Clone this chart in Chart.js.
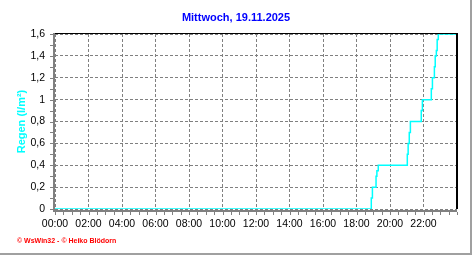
<!DOCTYPE html>
<html lang="de">
<head>
    <meta charset="UTF-8">
    <title>Regen Mittwoch, 19.11.2025</title>
    <script src="https://cdn.jsdelivr.net/npm/chart.js"></script>
    <style>
        html, body {
            margin: 0;
            padding: 0;
            background: #ffffff;
        }
        .chart-container {
            position: relative;
            width: 472px;
            height: 255px;
        }
    </style>
</head>
<body>
    <div class="chart-container">
        <canvas id="rainChart"></canvas>
    </div>

    <script>
        // Uhrzeit in Minuten seit 00:00, Regen kumuliert in l/m²
        const titleText = 'Mittwoch, 19.11.2025';
        const axisTitle = 'Regen (l/m²)';
        const footerText = '© WsWin32 - © Heiko Blödorn';
        const times = [0, 1133, 1137, 1150, 1153, 1158, 1262, 1265, 1269, 1273, 1312, 1316, 1348, 1352, 1359, 1362, 1366, 1369, 1373, 1440];
        const rain  = [0, 0.1, 0.2, 0.3, 0.35, 0.4, 0.5, 0.6, 0.7, 0.8, 0.9, 1.0, 1.1, 1.2, 1.3, 1.4, 1.45, 1.55, 1.6, 1.6];
        const yTicks = [0, 0.2, 0.4, 0.6, 0.8, 1, 1.2, 1.4, 1.6];
        const xTickHours = [0, 2, 4, 6, 8, 10, 12, 14, 16, 18, 20, 22];

        function fmtComma(v) {
            return String(Math.round(v * 10) / 10).replace('.', ',');
        }

        function fmtHour(min) {
            const h = Math.round(min / 60);
            return (h < 10 ? '0' : '') + h + ':00';
        }

        // Rahmen, Achsen, Nebenstriche, Titel und Fußzeile
        const decorations = {
            id: 'decorations',
            afterDatasetsDraw(chart) {
                const ctx = chart.ctx;
                const a = chart.chartArea;
                const x = chart.scales.x;
                const y = chart.scales.y;
                ctx.save();

                // Rahmen oben/rechts
                ctx.fillStyle = '#000000';
                ctx.fillRect(a.left, a.top - 1, a.right - a.left + 1, 1);
                ctx.fillRect(a.right - 1, a.top - 1, 2, a.bottom - a.top + 1);

                // Achsen grau
                ctx.fillStyle = '#808080';
                ctx.fillRect(a.left - 2, a.top - 1, 2, a.bottom - a.top + 3);
                ctx.fillRect(a.left - 2, a.bottom + 1, a.right - a.left + 2, 2);

                // Nebenstriche y alle 0,1
                for (let v = 0; v <= 1.6001; v += 0.1) {
                    const py = Math.round(y.getPixelForValue(v));
                    ctx.fillRect(a.left - 5, py, 3, 1);
                }
                // Nebenstriche x alle 30 min
                for (let m = 0; m <= 1440; m += 30) {
                    const px = Math.round(x.getPixelForValue(m));
                    ctx.fillRect(px, a.bottom + 3, 1, 3);
                }

                // Titel
                ctx.fillStyle = '#0000ff';
                ctx.font = 'bold 11px "Liberation Sans", Arial, sans-serif';
                ctx.textAlign = 'center';
                ctx.textBaseline = 'middle';
                ctx.fillText(titleText, 236, 18);

                // Fußzeile
                ctx.fillStyle = '#ff0000';
                ctx.font = 'bold 7px "Liberation Sans", Arial, sans-serif';
                ctx.textAlign = 'left';
                ctx.fillText(footerText, 17, 241);

                // äußerer Rand
                ctx.fillStyle = '#a0a0a0';
                ctx.fillRect(470, 0, 2, 255);
                ctx.fillRect(0, 253, 472, 2);
                ctx.restore();
            }
        };

        new Chart(document.getElementById('rainChart'), {
            type: 'line',
            data: {
                datasets: [{
                    label: axisTitle,
                    data: times.map((t, i) => ({ x: t, y: rain[i] })),
                    borderColor: '#00ffff',
                    borderWidth: 1.5,
                    stepped: true,
                    pointRadius: 0,
                    fill: false
                }]
            },
            options: {
                responsive: true,
                maintainAspectRatio: false,
                animation: false,
                devicePixelRatio: 1,
                layout: {
                    padding: { left: 0, top: 34, right: 15, bottom: 0 }
                },
                plugins: {
                    legend: { display: false },
                    tooltip: { enabled: false },
                    title: { display: false }
                },
                scales: {
                    x: {
                        type: 'linear',
                        min: 0,
                        max: 1440,
                        afterFit: scale => { scale.height = 46; },
                        afterBuildTicks: scale => {
                            scale.ticks = xTickHours.map(h => ({ value: h * 60 }));
                        },
                        border: { display: false, dash: [3, 2] },
                        grid: {
                            color: '#808080',
                            drawTicks: false,
                            lineWidth: 1
                        },
                        ticks: {
                            color: '#000000',
                            padding: 9,
                            maxRotation: 0,
                            autoSkip: false,
                            font: { family: '"Liberation Sans", Arial, sans-serif', size: 10.5 },
                            callback: v => fmtHour(v)
                        }
                    },
                    y: {
                        min: 0,
                        max: 1.6,
                        afterFit: scale => { scale.width = 55; },
                        afterBuildTicks: scale => {
                            scale.ticks = yTicks.map(v => ({ value: v }));
                        },
                        border: { display: false, dash: [3, 2] },
                        grid: {
                            color: '#808080',
                            drawTicks: false,
                            lineWidth: 1
                        },
                        ticks: {
                            color: '#000000',
                            padding: 10,
                            font: { family: '"Liberation Sans", Arial, sans-serif', size: 10.5 },
                            callback: v => fmtComma(v)
                        },
                        title: {
                            display: true,
                            text: axisTitle,
                            color: '#00ffff',
                            padding: { top: 15, bottom: 0 },
                            font: { family: '"Liberation Sans", Arial, sans-serif', size: 11, weight: 'bold' }
                        }
                    }
                }
            },
            plugins: [decorations]
        });
    </script>
</body>
</html>
